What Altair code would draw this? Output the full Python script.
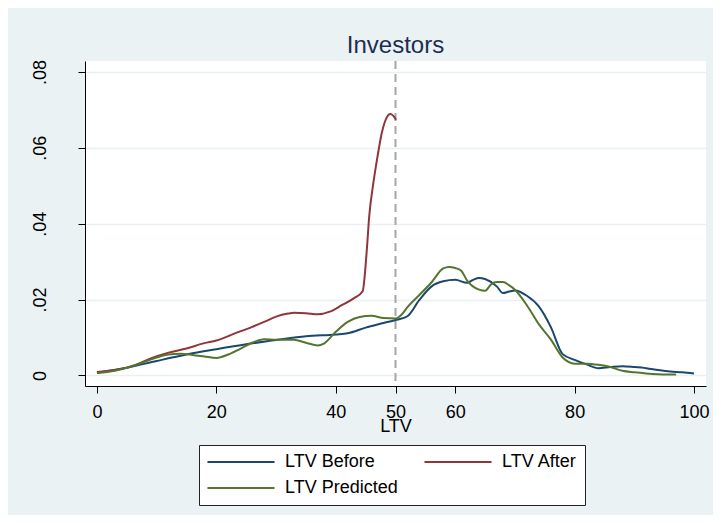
import altair as alt
import pandas as pd

# ---- data ----
x_before = [0, 2, 5, 10, 15, 20, 25, 30, 35, 40, 42, 45, 48, 50, 52, 54, 56, 58, 60, 62, 63, 64,
            65, 67, 68, 69, 70, 72, 74, 76, 78, 80, 82, 84, 86, 88, 90, 92, 94, 96, 98, 100]
y_before = [0.0007, 0.0012, 0.0020, 0.0038, 0.0055, 0.0069, 0.0082, 0.0093, 0.0103, 0.0108, 0.0111,
            0.0126, 0.0138, 0.0146, 0.0156, 0.0199, 0.0234, 0.0248, 0.0252, 0.0244, 0.0252, 0.0257,
            0.0254, 0.0234, 0.0217, 0.0221, 0.0224, 0.0210, 0.0182, 0.0128, 0.0056, 0.0041, 0.0029,
            0.0019, 0.0022, 0.0024, 0.0022, 0.0019, 0.0014, 0.0010, 0.0008, 0.0005]

x_after = [0, 3, 6, 9, 12, 15, 18, 20, 23, 26, 28, 30, 32, 33, 35, 37, 39, 41, 43, 44.5, 45.2,
           45.6, 46.3, 47.0, 47.7, 48.5, 49.1, 49.6, 50.1]
y_after = [0.0009, 0.0014, 0.0025, 0.0045, 0.0060, 0.0071, 0.0085, 0.0092, 0.0110, 0.0128, 0.0141,
           0.0155, 0.0163, 0.0165, 0.0164, 0.0161, 0.0168, 0.0185, 0.0203, 0.0222, 0.0332, 0.0420,
           0.0508, 0.0578, 0.0639, 0.0679, 0.0689, 0.0685, 0.0674]

x_pred = [0, 3, 5, 8, 10, 12, 14, 16, 18, 20, 22, 24, 26, 28, 30, 33, 35, 37, 38, 40, 42, 44, 46,
          48, 50, 51, 52, 54, 56, 58, 59, 60, 61, 62, 64, 65, 66, 67, 68, 69, 70, 72, 74, 76, 78,
          80, 82, 84, 86, 88, 90, 92, 94, 96, 97]
y_pred = [0.0006, 0.0012, 0.0020, 0.0036, 0.0047, 0.0055, 0.0057, 0.0054, 0.0050, 0.0046, 0.0055,
          0.0070, 0.0086, 0.0095, 0.0094, 0.0094, 0.0086, 0.0079, 0.0084, 0.0115, 0.0141, 0.0154,
          0.0157, 0.0151, 0.0150, 0.0160, 0.0180, 0.0212, 0.0245, 0.0282, 0.0286, 0.0283, 0.0276,
          0.0250, 0.0226, 0.0223, 0.0240, 0.0246, 0.0246, 0.0238, 0.0226, 0.0185, 0.0135, 0.0095,
          0.0047, 0.0031, 0.0031, 0.0028, 0.0022, 0.0012, 0.0008, 0.0005, 0.0003, 0.0002, 0.0002]

series_names = ["LTV Before", "LTV After", "LTV Predicted"]
series_colors = ["#1A476F", "#90353B", "#55752F"]
x_ticks = [0, 20, 40, 50, 60, 80, 100]
y_ticks = [0, 0.02, 0.04, 0.06, 0.08]
cutoff = [50]

df = pd.concat([
    pd.DataFrame({"ltv": x_before, "density": y_before, "series": series_names[0]}),
    pd.DataFrame({"ltv": x_after, "density": y_after, "series": series_names[1]}),
    pd.DataFrame({"ltv": x_pred, "density": y_pred, "series": series_names[2]}),
], ignore_index=True)

FONT = "Liberation Sans"

xscale = alt.Scale(domain=[-2, 102], nice=False, zero=False)
yscale = alt.Scale(domain=[-0.0028, 0.0829], nice=False, zero=False)

x_enc = alt.X("ltv:Q", scale=xscale, title="LTV",
              axis=alt.Axis(values=x_ticks, grid=False, tickSize=7, labelPadding=10,
                            titleY=31, format="d"))
y_enc = alt.Y("density:Q", scale=yscale, title=None,
              axis=alt.Axis(values=y_ticks, grid=True, tickSize=7, labelAngle=270,
                            labelAlign="center", labelBaseline="alphabetic", labelPadding=33,
                            labelExpr="datum.value == 0 ? '0' : substring(format(datum.value, '.2f'), 1)"))

color_enc = alt.Color("series:N",
                      scale=alt.Scale(domain=series_names, range=series_colors),
                      legend=alt.Legend(title=None, orient="none", legendX=114, legendY=384,
                                        direction="horizontal", columns=2, columnPadding=22,
                                        rowPadding=8,
                                        symbolType="M-5,0L5,0", symbolSize=180,
                                        symbolOffset=25, symbolStrokeWidth=2, labelOffset=35,
                                        labelFontSize=18, labelFont=FONT, labelColor="#000000",
                                        fillColor="#FFFFFF", strokeColor="#222222",
                                        padding=8))

rule = alt.Chart(pd.DataFrame({"ltv": cutoff})).mark_rule(
    color="#A6A6A6", strokeWidth=2, strokeDash=[8, 5]
).encode(x=alt.X("ltv:Q", scale=xscale))

layers = [rule]
for name in series_names:
    layers.append(
        alt.Chart(df).transform_filter(alt.datum.series == name)
        .mark_line(strokeWidth=2, interpolate="monotone")
        .encode(x=x_enc, y=y_enc, color=color_enc)
    )

chart = alt.layer(*layers).properties(
    width=621, height=325,
    title=alt.TitleParams("Investors", fontSize=24, font=FONT, fontWeight="normal",
                          color="#1E2D52", anchor="middle", baseline="alphabetic",
                          offset=7, dy=25),
    autosize=alt.AutoSizeParams(type="none"),
    padding={"left": 77, "top": 53, "right": 7, "bottom": 129},
    background="#EAF2F3",
).configure_view(
    fill="#FFFFFF", stroke=None
).configure_axis(
    domainColor="#000000", domainWidth=1, tickColor="#000000", tickWidth=1,
    labelFont=FONT, labelFontSize=18, labelColor="#000000",
    titleFont=FONT, titleFontSize=18, titleFontWeight="normal", titleColor="#000000",
    gridColor="#E8F0F2", gridWidth=1.5,
)

chart.save("out.html", embed_options={"renderer": "svg", "actions": False})
